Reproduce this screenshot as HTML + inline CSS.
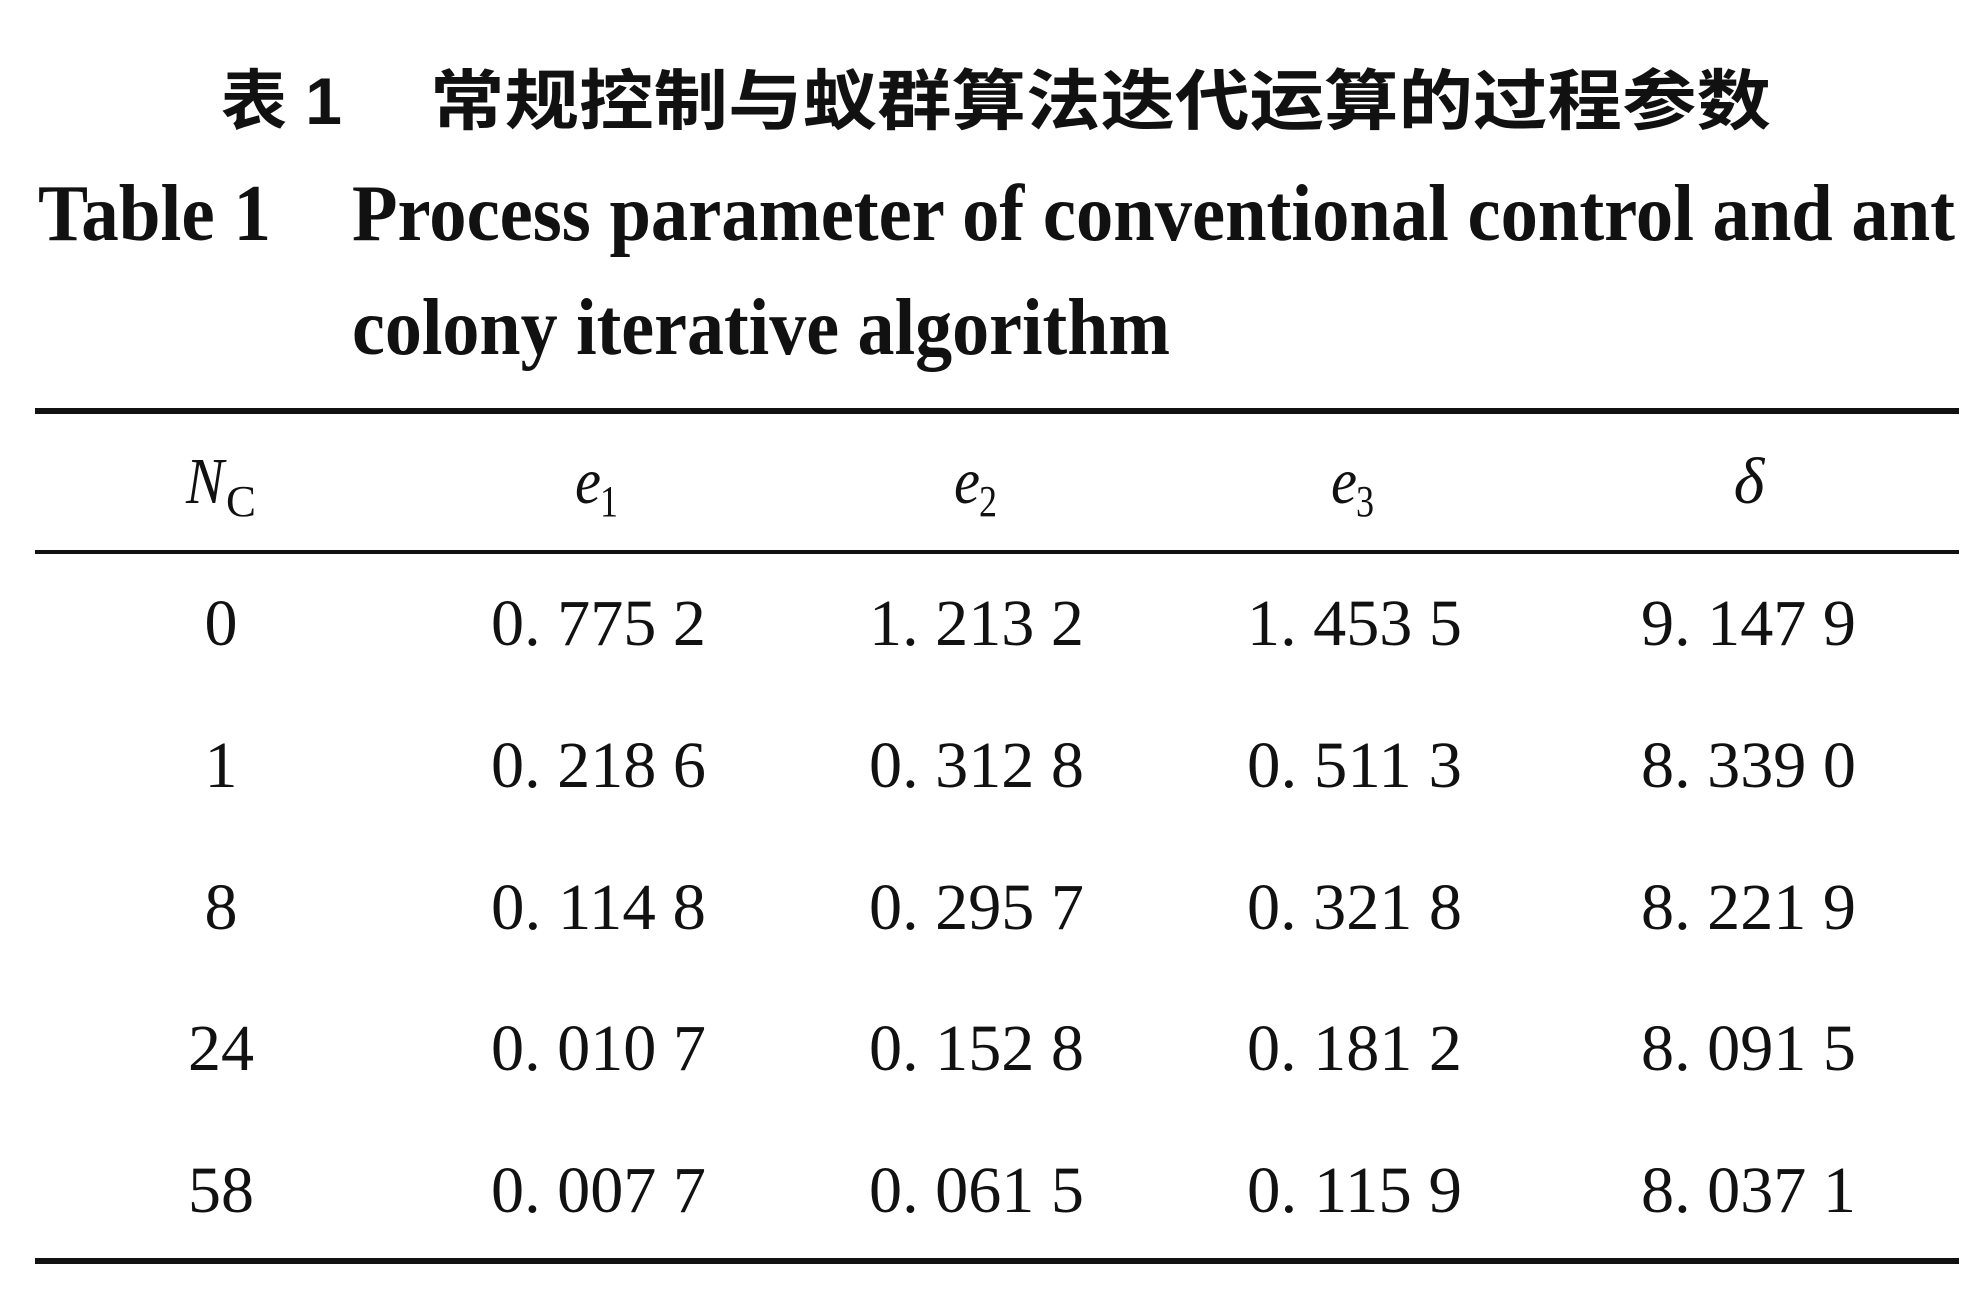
<!DOCTYPE html>
<html><head><meta charset="utf-8"><style>
html,body{margin:0;padding:0;background:#fff;}
svg{display:block}
</style></head><body>
<svg width="1984" height="1306" viewBox="0 0 1984 1306" xmlns="http://www.w3.org/2000/svg">
<rect width="1984" height="1306" fill="#fff"/>
<g font-family="'Liberation Sans','Noto Sans CJK SC',sans-serif" font-weight="bold" fill="#111" font-size="66">
<text x="221" y="124" textLength="121" lengthAdjust="spacingAndGlyphs">表 1</text>
<text x="430" y="124" textLength="1341" lengthAdjust="spacingAndGlyphs">常规控制与蚁群算法迭代运算的过程参数</text>
</g>
<g font-family="'Liberation Serif',serif" font-weight="bold" fill="#111" font-size="80">
<text x="38" y="240" textLength="233" lengthAdjust="spacingAndGlyphs">Table 1</text>
<text x="352" y="240" textLength="1603" lengthAdjust="spacingAndGlyphs">Process parameter of conventional control and ant</text>
<text x="352" y="354" textLength="818" lengthAdjust="spacingAndGlyphs">colony iterative algorithm</text>
</g>
<rect x="35" y="408" width="1924" height="6" fill="#111"/>
<rect x="35" y="550" width="1924" height="4" fill="#111"/>
<rect x="35" y="1258" width="1924" height="6" fill="#111"/>
<g font-family="'Liberation Serif',serif" fill="#111" font-size="66">
<text x="186" y="503" font-style="italic" textLength="38" lengthAdjust="spacingAndGlyphs">N</text>
<text x="226" y="516" font-size="44" textLength="30" lengthAdjust="spacingAndGlyphs">C</text>
<text x="575" y="503" font-style="italic" textLength="26" lengthAdjust="spacingAndGlyphs">e</text>
<text x="600" y="516" font-size="44" textLength="18" lengthAdjust="spacingAndGlyphs">1</text>
<text x="954" y="503" font-style="italic" textLength="26" lengthAdjust="spacingAndGlyphs">e</text>
<text x="979" y="516" font-size="44" textLength="18" lengthAdjust="spacingAndGlyphs">2</text>
<text x="1331" y="503" font-style="italic" textLength="26" lengthAdjust="spacingAndGlyphs">e</text>
<text x="1356" y="516" font-size="44" textLength="18" lengthAdjust="spacingAndGlyphs">3</text>
<text x="1749" y="503" font-style="italic" text-anchor="middle">δ</text>
</g>
<g font-family="'Liberation Serif',serif" fill="#111" font-size="66" text-anchor="middle">
<text x="221" y="645">0</text>
<text x="221" y="787">1</text>
<text x="221" y="929">8</text>
<text x="221" y="1070">24</text>
<text x="221" y="1212">58</text>
</g>
<g font-family="'Liberation Serif',serif" fill="#111" font-size="66" lengthAdjust="spacingAndGlyphs">
<text x="491" y="645" textLength="215" lengthAdjust="spacingAndGlyphs">0. 775 2</text>
<text x="869" y="645" textLength="215" lengthAdjust="spacingAndGlyphs">1. 213 2</text>
<text x="1247" y="645" textLength="215" lengthAdjust="spacingAndGlyphs">1. 453 5</text>
<text x="1641" y="645" textLength="215" lengthAdjust="spacingAndGlyphs">9. 147 9</text>

<text x="491" y="787" textLength="215" lengthAdjust="spacingAndGlyphs">0. 218 6</text>
<text x="869" y="787" textLength="215" lengthAdjust="spacingAndGlyphs">0. 312 8</text>
<text x="1247" y="787" textLength="215" lengthAdjust="spacingAndGlyphs">0. 511 3</text>
<text x="1641" y="787" textLength="215" lengthAdjust="spacingAndGlyphs">8. 339 0</text>

<text x="491" y="929" textLength="215" lengthAdjust="spacingAndGlyphs">0. 114 8</text>
<text x="869" y="929" textLength="215" lengthAdjust="spacingAndGlyphs">0. 295 7</text>
<text x="1247" y="929" textLength="215" lengthAdjust="spacingAndGlyphs">0. 321 8</text>
<text x="1641" y="929" textLength="215" lengthAdjust="spacingAndGlyphs">8. 221 9</text>

<text x="491" y="1070" textLength="215" lengthAdjust="spacingAndGlyphs">0. 010 7</text>
<text x="869" y="1070" textLength="215" lengthAdjust="spacingAndGlyphs">0. 152 8</text>
<text x="1247" y="1070" textLength="215" lengthAdjust="spacingAndGlyphs">0. 181 2</text>
<text x="1641" y="1070" textLength="215" lengthAdjust="spacingAndGlyphs">8. 091 5</text>

<text x="491" y="1212" textLength="215" lengthAdjust="spacingAndGlyphs">0. 007 7</text>
<text x="869" y="1212" textLength="215" lengthAdjust="spacingAndGlyphs">0. 061 5</text>
<text x="1247" y="1212" textLength="215" lengthAdjust="spacingAndGlyphs">0. 115 9</text>
<text x="1641" y="1212" textLength="215" lengthAdjust="spacingAndGlyphs">8. 037 1</text>
</g>
</svg>
</body></html>
